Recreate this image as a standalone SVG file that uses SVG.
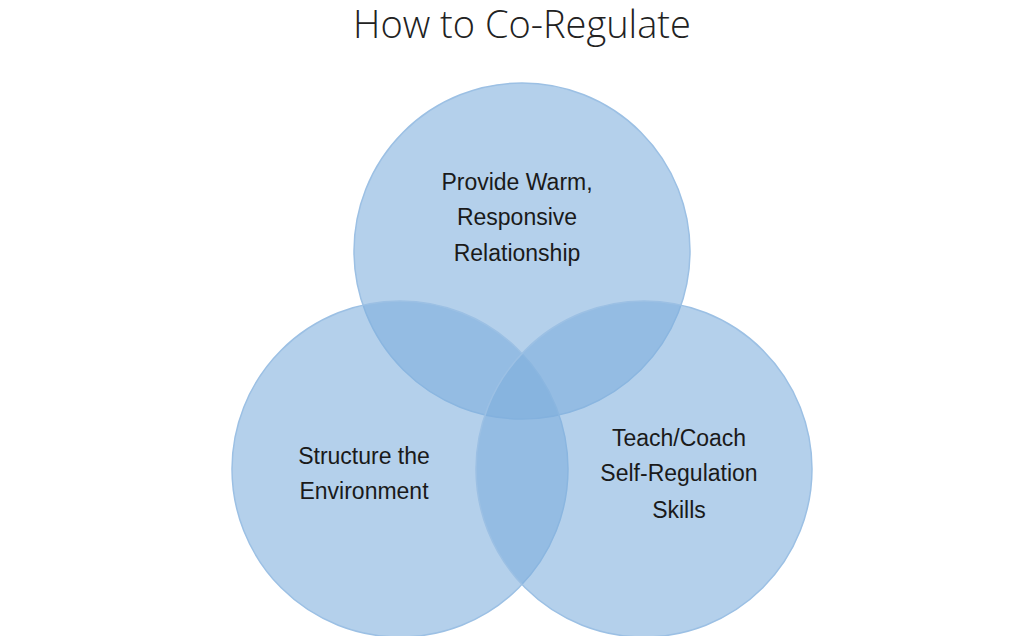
<svg xmlns="http://www.w3.org/2000/svg" width="1036" height="636" viewBox="0 0 1036 636">
<style>
.c{fill:#7eaedd;fill-opacity:0.58;stroke:#9cc0e4;stroke-width:1.5}
.t{font-family:"Liberation Sans",Arial,sans-serif;font-size:23px;fill:#1a1a1a;text-anchor:middle}
.h{font-family:"Open Sans","Liberation Sans",sans-serif;font-weight:300;font-size:38px;fill:#222;text-anchor:middle}
</style>
<rect width="1036" height="636" fill="#fff"/>
<text class="h" x="522" y="38">How to Co-Regulate</text>
<g id="top"><circle class="c" cx="522" cy="251" r="168"/>
<text class="t" x="517" y="190">Provide Warm,</text><text class="t" x="517" y="225">Responsive</text><text class="t" x="517" y="261">Relationship</text></g>
<g id="left"><circle class="c" cx="400" cy="469" r="168"/>
<text class="t" x="364" y="464">Structure the</text><text class="t" x="364" y="499">Environment</text></g>
<g id="right"><circle class="c" cx="644" cy="469" r="168"/>
<text class="t" x="679" y="446">Teach/Coach</text><text class="t" x="679" y="481">Self-Regulation</text><text class="t" x="679" y="518">Skills</text></g>
<g id="connectors"/>
</svg>
